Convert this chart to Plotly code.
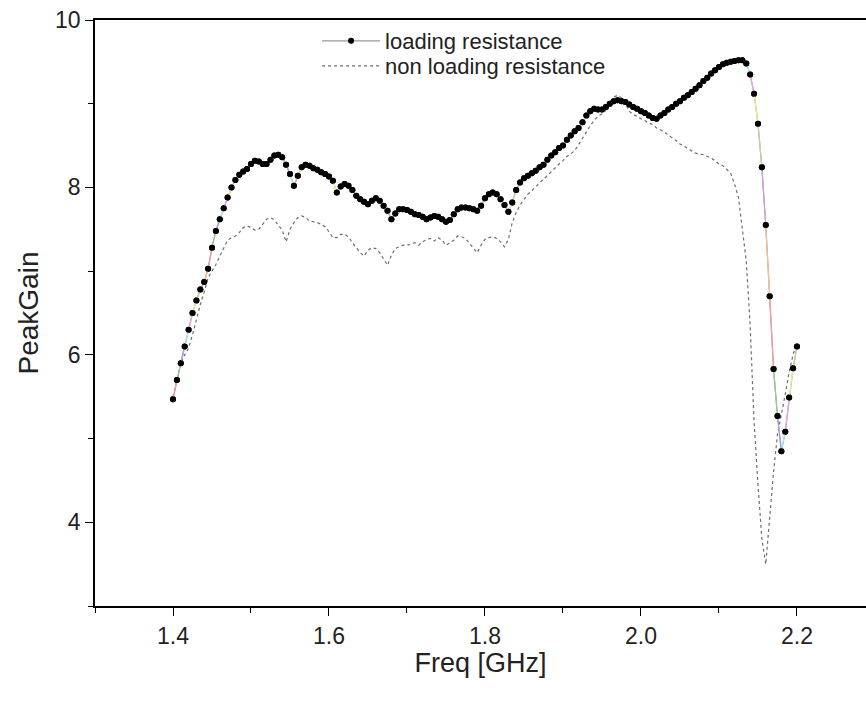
import plotly.graph_objects as go

# Frequency sweep grid (GHz), 1.40 .. 2.20 in 0.005 steps
freq = [round(1.4 + 0.005 * i, 3) for i in range(161)]

loading = [
    5.47, 5.70, 5.90, 6.10, 6.30, 6.50, 6.65, 6.78, 6.87, 7.03,
    7.28, 7.48, 7.62, 7.75, 7.88, 8.00, 8.09, 8.15, 8.19, 8.22,
    8.28, 8.32, 8.31, 8.28, 8.28, 8.33, 8.38, 8.39, 8.36, 8.27,
    8.16, 8.02, 8.14, 8.24, 8.27, 8.26, 8.23, 8.21, 8.18, 8.16,
    8.13, 8.08, 7.94, 8.01, 8.04, 8.02, 7.97, 7.90, 7.86, 7.83,
    7.80, 7.84, 7.87, 7.84, 7.78, 7.72, 7.62, 7.69, 7.74, 7.74,
    7.73, 7.71, 7.68, 7.67, 7.65, 7.62, 7.64, 7.66, 7.65, 7.62,
    7.59, 7.61, 7.68, 7.74, 7.76, 7.76, 7.75, 7.74, 7.72, 7.78,
    7.87, 7.92, 7.94, 7.92, 7.86, 7.79, 7.71, 7.82, 7.97, 8.06,
    8.11, 8.14, 8.17, 8.20, 8.24, 8.27, 8.33, 8.38, 8.42, 8.47,
    8.50, 8.57, 8.62, 8.67, 8.71, 8.78, 8.86, 8.91, 8.94, 8.93,
    8.93, 8.96, 9.00, 9.03, 9.04, 9.03, 9.02, 8.99, 8.96, 8.94,
    8.91, 8.89, 8.86, 8.83, 8.82, 8.86, 8.89, 8.93, 8.96, 9.00,
    9.03, 9.07, 9.10, 9.14, 9.18, 9.22, 9.27, 9.31, 9.36, 9.40,
    9.44, 9.47, 9.49, 9.50, 9.51, 9.52, 9.52, 9.48, 9.35, 9.12,
    8.76, 8.24, 7.55, 6.70, 5.83, 5.27, 4.85, 5.08, 5.49, 5.84,
    6.10,
]

non_loading = [
    5.50, 5.72, 5.90, 6.00, 6.08, 6.24, 6.43, 6.60, 6.75, 6.92,
    7.00, 7.08, 7.18, 7.28, 7.37, 7.40, 7.42, 7.46, 7.52, 7.54,
    7.52, 7.49, 7.50, 7.56, 7.62, 7.64, 7.61, 7.55, 7.49, 7.35,
    7.50, 7.58, 7.64, 7.66, 7.64, 7.60, 7.59, 7.58, 7.56, 7.53,
    7.47, 7.40, 7.40, 7.44, 7.44, 7.41, 7.34, 7.28, 7.22, 7.18,
    7.25, 7.28, 7.27, 7.22, 7.15, 7.07, 7.19, 7.27, 7.29, 7.31,
    7.31, 7.32, 7.34, 7.31, 7.35, 7.38, 7.39, 7.36, 7.40, 7.37,
    7.31, 7.34, 7.37, 7.42, 7.41, 7.39, 7.33, 7.28, 7.22, 7.31,
    7.38, 7.40, 7.41, 7.39, 7.35, 7.29, 7.38, 7.58, 7.70, 7.79,
    7.86, 7.92, 7.96, 8.01, 8.06, 8.10, 8.14, 8.19, 8.23, 8.28,
    8.32, 8.37, 8.40, 8.44, 8.51, 8.59, 8.66, 8.74, 8.80, 8.85,
    8.88, 8.92, 9.01, 9.08, 9.10, 9.07, 9.01, 8.91, 8.87, 8.85,
    8.82, 8.80, 8.77, 8.75, 8.71, 8.69, 8.66, 8.63, 8.60, 8.56,
    8.52, 8.49, 8.46, 8.43, 8.41, 8.40, 8.39, 8.37, 8.35, 8.32,
    8.28, 8.26, 8.22, 8.17, 8.04, 7.88, 7.50, 7.12, 6.35, 5.20,
    4.45, 3.80, 3.50, 4.10, 4.60, 5.05, 5.28, 5.53, 5.80, 6.00,
    6.15,
]

x_ticks = [1.4, 1.6, 1.8, 2.0, 2.2]
x_tick_text = ["1.4", "1.6", "1.8", "2.0", "2.2"]
y_ticks = [4, 6, 8, 10]
y_tick_text = ["4", "6", "8", "10"]

segment_colors = ["#f4a0a0", "#90d090", "#a0a0f0", "#a0f0f0", "#f0a0f0",
                  "#f0f090", "#d0d0a0", "#d0a0d0", "#f8c090"]

FONT = "Liberation Sans, Arial, sans-serif"

fig = go.Figure()

fig.add_trace(go.Scatter(
    x=freq, y=non_loading, mode="lines", name="non loading resistance",
    line=dict(color="#6e6e6e", width=1.2, dash="dot"),
    legend="legend2",
))

fig.add_trace(go.Scatter(
    x=freq, y=loading, mode="lines+markers", name="loading resistance",
    line=dict(color="#9a9a9a", width=1.2),
    marker=dict(color="black", size=6),
    legend="legend",
))

# coloured connecting segments (Origin style)
n = len(segment_colors)
for c in range(n):
    xs, ys = [], []
    for i in range(len(freq) - 1):
        if i % n == c:
            xs += [freq[i], freq[i + 1], None]
            ys += [loading[i], loading[i + 1], None]
    fig.add_trace(go.Scatter(x=xs, y=ys, mode="lines", showlegend=False,
                             line=dict(color=segment_colors[c], width=1.2),
                             hoverinfo="skip"))

fig.add_trace(go.Scatter(
    x=freq, y=loading, mode="markers", showlegend=False,
    marker=dict(color="black", size=6),
))

legend_style = dict(xanchor="left", yanchor="middle", bgcolor="rgba(0,0,0,0)",
                    font=dict(size=22, family=FONT, color="#222"),
                    itemwidth=58, borderwidth=0)

fig.update_layout(
    width=866, height=701,
    margin=dict(l=95, r=0, t=20, b=95),
    paper_bgcolor="white", plot_bgcolor="white",
    font=dict(family=FONT, color="#222", size=23),
    legend=dict(x=0.288, y=0.9642, **legend_style),
    legend2=dict(x=0.288, y=0.9215, **legend_style),
)

fig.update_xaxes(
    range=[1.3, 2.2885], tickvals=x_ticks, ticktext=x_tick_text,
    showline=True, linecolor="black", linewidth=1.8, mirror=True,
    ticks="outside", ticklen=8, tickwidth=1.4, tickcolor="black",
    minor=dict(tickvals=[1.3, 1.5, 1.7, 1.9, 2.1], ticks="outside",
               ticklen=5, tickwidth=1.4, tickcolor="black"),
    showgrid=False, zeroline=False,
    tickfont=dict(size=23, family=FONT),
    title=dict(text="Freq [GHz]", font=dict(size=27, family=FONT), standoff=0),
)

fig.update_yaxes(
    range=[3, 10], tickvals=y_ticks, ticktext=y_tick_text,
    showline=True, linecolor="black", linewidth=1.8, mirror=False,
    ticks="outside", ticklen=8, tickwidth=1.4, tickcolor="black",
    minor=dict(tickvals=[3, 5, 7, 9], ticks="outside",
               ticklen=5, tickwidth=1.4, tickcolor="black"),
    showgrid=False, zeroline=False,
    tickfont=dict(size=23, family=FONT),
    title=dict(text="PeakGain", font=dict(size=28, family=FONT), standoff=8),
)

fig.write_html("out.html")
